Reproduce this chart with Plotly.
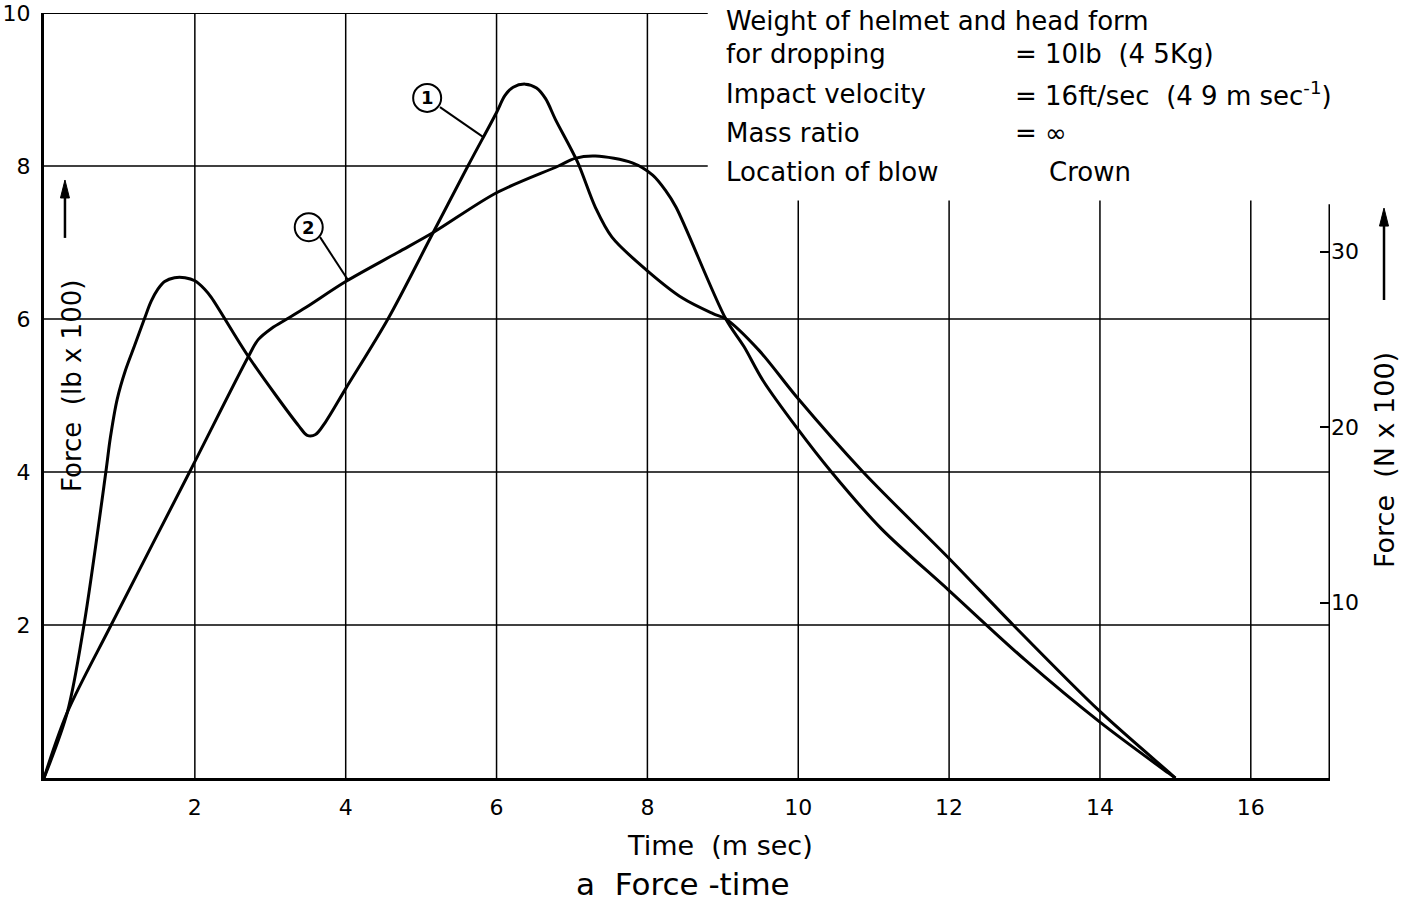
import plotly.graph_objects as go

# ---- data ----
t1 = [0, 0.31, 0.53, 0.82, 0.88, 0.97, 1.08, 1.2, 1.33, 1.42, 1.51, 1.6, 1.73, 1.87, 2.0, 2.13, 2.22,
      2.71, 3.38, 3.49, 3.6, 3.73, 4.0, 4.56, 5.16, 5.62, 6.0, 6.11, 6.22, 6.38, 6.53, 6.65, 6.78,
      7.07, 7.31, 7.53, 8.0, 8.47, 8.87, 9.04, 9.48, 9.98, 10.85, 12.0, 12.85, 14.0, 14.92, 15.0]
f1 = [0, 0.86, 2.0, 4.0, 4.45, 4.95, 5.33, 5.65, 6.0, 6.23, 6.39, 6.49, 6.54, 6.54, 6.50, 6.39, 6.28,
      5.51, 4.60, 4.48, 4.49, 4.65, 5.09, 6.0, 7.13, 8.0, 8.70, 8.92, 9.03, 9.07, 9.02, 8.88, 8.61,
      8.06, 7.46, 7.07, 6.63, 6.27, 6.07, 6.0, 5.59, 4.98, 4.01, 2.87, 2.0, 0.87, 0.07, 0]

t2 = [0, 0.31, 0.89, 1.93, 2.71, 2.84, 3.02, 3.22, 3.47, 4.0, 4.69, 5.16, 6.0, 6.82, 7.04, 7.31,
      7.8, 8.07, 8.24, 8.38, 9.04, 9.28, 9.53, 9.98, 10.44, 11.1, 12.0, 13.0, 14.0, 14.9, 15.0]
f2 = [0, 0.86, 2.0, 4.0, 5.51, 5.73, 5.88, 6.0, 6.15, 6.49, 6.87, 7.13, 7.65, 8.0, 8.10, 8.13,
      8.04, 7.88, 7.68, 7.46, 6.0, 5.64, 5.2, 4.58, 4.0, 3.26, 2.45, 1.55, 0.73, 0.07, 0]

x_ticks = [2, 4, 6, 8, 10, 12, 14, 16]
y_ticks = [2, 4, 6, 8, 10]
n_ticks = [10, 20, 30]          # Force (N x 100)

X_MAX = 17.05
Y_MAX = 10
N_MAX = 43.6            # right-axis range as drawn in the reference
TEXTBOX_LEFT = 8.8      # where the upper horizontal lines stop
TEXTBOX_BOTTOM = 7.55   # where right-hand vertical lines stop

FONT = "DejaVu Sans"

fig = go.Figure()
for xs, ys in ((t1, f1), (t2, f2)):
    fig.add_trace(go.Scatter(x=xs, y=ys, mode="lines",
                             line=dict(color="black", width=3, shape="spline", smoothing=0.9),
                             hoverinfo="skip", showlegend=False))

# invisible trace to activate the right axis
fig.add_trace(go.Scatter(x=[0], y=[0], yaxis="y2", mode="markers",
                         marker=dict(opacity=0), hoverinfo="skip", showlegend=False))

shapes = []
# vertical grid
for xv in x_ticks:
    top = Y_MAX if xv <= TEXTBOX_LEFT else TEXTBOX_BOTTOM
    shapes.append(dict(type="line", xref="x", yref="y", x0=xv, x1=xv, y0=0, y1=top,
                       line=dict(color="black", width=1.5), layer="below"))
# horizontal grid
for yv in y_ticks:
    right = X_MAX if yv <= TEXTBOX_BOTTOM else TEXTBOX_LEFT
    shapes.append(dict(type="line", xref="x", yref="y", x0=0, x1=right, y0=yv, y1=yv,
                       line=dict(color="black", width=2 if yv == Y_MAX else 1.5), layer="below"))
# right axis line
shapes.append(dict(type="line", xref="x", yref="y", x0=X_MAX, x1=X_MAX, y0=0, y1=7.5,
                   line=dict(color="black", width=3)))

# up-arrows next to the axis titles (paper coords)
def up_arrow(xp, y0, y1):
    hw, hl = 4.5 / 1286, 18 / 765
    return [
        dict(type="line", xref="paper", yref="paper", x0=xp, x1=xp, y0=y0, y1=y1 - hl / 2,
             line=dict(color="black", width=2.5)),
        dict(type="path", xref="paper", yref="paper",
             path=f"M {xp - hw} {y1 - hl} L {xp} {y1} L {xp + hw} {y1 - hl} Z",
             fillcolor="black", line=dict(color="black", width=1)),
    ]
shapes += up_arrow(0.0163, 0.706, 0.7817)
shapes += up_arrow(1.042, 0.6248, 0.745)

# circled curve labels + leaders
circles = [("1", 5.08, 8.89, (5.25, 8.77), (5.82, 8.38)),
           ("2", 3.51, 7.20, (3.66, 7.07), (4.03, 6.51))]
annotations = []
for lab, cx, cy, p0, p1 in circles:
    shapes.append(dict(type="circle", xref="x", yref="y", xsizemode="pixel", ysizemode="pixel",
                       xanchor=cx, yanchor=cy, x0=-14, x1=14, y0=-14, y1=14,
                       line=dict(color="black", width=2), fillcolor="white"))
    shapes.append(dict(type="line", xref="x", yref="y", x0=p0[0], y0=p0[1], x1=p1[0], y1=p1[1],
                       line=dict(color="black", width=2)))
    annotations.append(dict(x=cx, y=cy, xref="x", yref="y", text=f"<b>{lab}</b>", showarrow=False,
                            font=dict(family=FONT, size=18, color="black")))

# text box (top right)
box_font = dict(family=FONT, size=26, color="black")
left_lines = [("Weight of helmet and head form", 9.89),
              ("for dropping", 9.46),
              ("Impact velocity", 8.94),
              ("Mass ratio", 8.43),
              ("Location of blow", 7.92)]
for txt, yy in left_lines:
    annotations.append(dict(x=9.02, y=yy, xref="x", yref="y", text=txt, showarrow=False,
                            xanchor="left", yanchor="middle", font=box_font))
right_lines = [("= 10lb  (4 5Kg)", 9.46),
               ("= 16ft/sec  (4 9 m sec<sup>-1</sup>)", 8.94),
               ("= ∞", 8.43)]
for txt, yy in right_lines:
    annotations.append(dict(x=12.85, y=yy, xref="x", yref="y", text=txt, showarrow=False,
                            xanchor="left", yanchor="middle", font=box_font))
annotations.append(dict(x=13.3, y=7.92, xref="x", yref="y", text="Crown", showarrow=False,
                        xanchor="left", yanchor="middle", font=box_font))

# axis titles
annotations += [
    dict(x=0.5257, y=-0.0876, xref="paper", yref="paper", text="Time  (m sec)", showarrow=False,
         xanchor="center", yanchor="middle", font=dict(family=FONT, size=27, color="black")),
    dict(x=0.4969, y=-0.1386, xref="paper", yref="paper", text="a  Force -time", showarrow=False,
         xanchor="center", yanchor="middle", font=dict(family=FONT, size=31, color="black")),
    dict(x=0.0218, y=0.5124, xref="paper", yref="paper", text="Force  (lb x 100)", showarrow=False,
         textangle=-90, xanchor="center", yanchor="middle", font=dict(family=FONT, size=26, color="black")),
    dict(x=1.0428, y=0.4157, xref="paper", yref="paper", text="Force  (N x 100)", showarrow=False,
         textangle=-90, xanchor="center", yanchor="middle", font=dict(family=FONT, size=27, color="black")),
]

tick_font = dict(family=FONT, size=22, color="black")
fig.update_layout(
    width=1409, height=901,
    margin=dict(l=44, r=79, t=13, b=123),
    paper_bgcolor="white", plot_bgcolor="white",
    showlegend=False, hovermode=False,
    xaxis=dict(range=[0, X_MAX], tickvals=x_ticks, ticktext=[str(v) for v in x_ticks],
               showgrid=False, zeroline=False, showline=True, linecolor="black", linewidth=3,
               ticks="", tickfont=tick_font, ticklabelstandoff=8, automargin=False),
    yaxis=dict(range=[0, Y_MAX], tickvals=y_ticks, ticktext=[str(v) for v in y_ticks],
               showgrid=False, zeroline=False, showline=True, linecolor="black", linewidth=3,
               ticks="", tickfont=tick_font, ticklabelstandoff=6, automargin=False),
    yaxis2=dict(range=[0, N_MAX], overlaying="y", side="right", anchor="x",
                tickvals=n_ticks, ticktext=[str(v) for v in n_ticks],
                showgrid=False, zeroline=False, showline=False, automargin=False,
                ticks="inside", ticklen=10, tickwidth=2, tickcolor="black", tickfont=tick_font),
    shapes=shapes, annotations=annotations,
)

fig.write_html("out.html", config={"displayModeBar": False})
